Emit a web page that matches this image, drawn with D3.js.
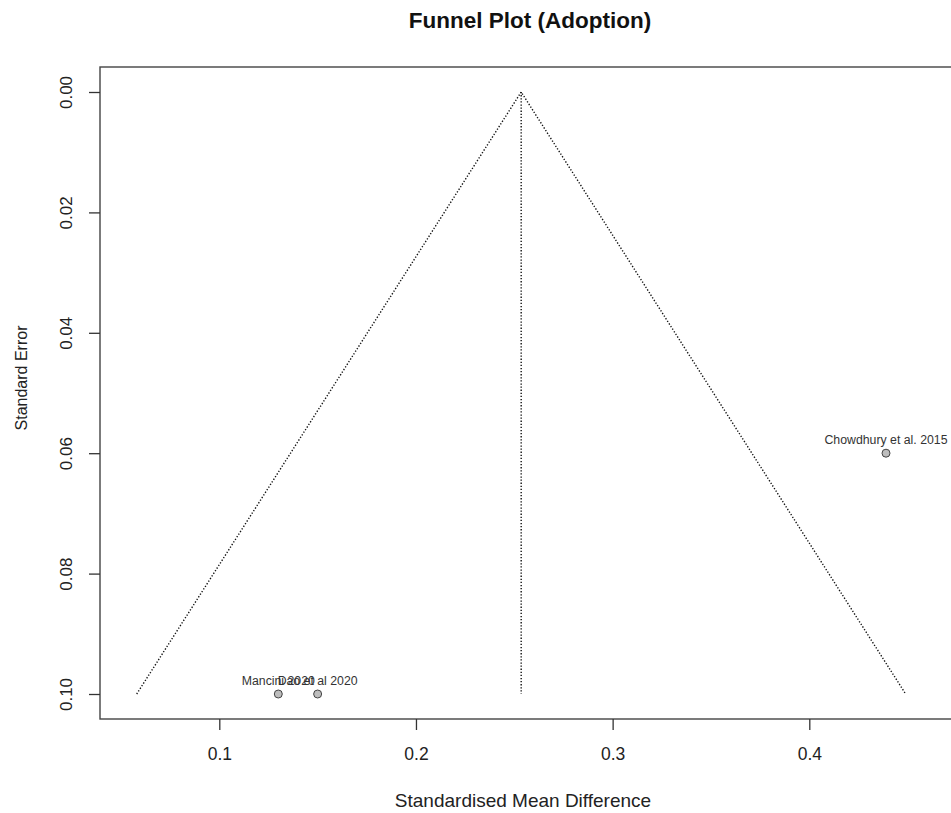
<!DOCTYPE html>
<html>
<head>
<meta charset="utf-8">
<script src="https://cdn.jsdelivr.net/npm/d3@7"></script>
<style>
  body { margin: 0; background: #fff; }
  svg { font-family: "Liberation Sans", Arial, sans-serif; }
  .funnel { fill: none; stroke: #111; stroke-width: 1.4; stroke-dasharray: 1.3 1.8; }
</style>
</head>
<body>
<svg class="funnel-plot" width="951" height="813"></svg>
<script>
// studies
const studyLabels = ["Mancini 2020", "Dao et al 2020", "Chowdhury et al. 2015"];
const studySmd = [0.13, 0.15, 0.439];
const studySe = [0.1, 0.1, 0.06];

// funnel (pooled estimate and 95% limits at se = 0.1)
const pooledSmd = 0.2535;
const funnelSmd = [0.058, 0.2535, 0.449];
const funnelSe = [0.1, 0, 0.1];

const xTicks = [0.1, 0.2, 0.3, 0.4];
const yTicks = [0, 0.02, 0.04, 0.06, 0.08, 0.1];

const svg = d3.select("svg.funnel-plot");

const box = { left: 100, top: 67, right: 962, bottom: 719 };

const x = d3.scaleLinear().domain([0.1, 0.4]).range([219.3, 809.3]);
const y = d3.scaleLinear().domain([0, 0.1]).range([92, 694]);

// plot box
svg
  .append("rect")
  .attr("x", box.left)
  .attr("y", box.top)
  .attr("width", box.right - box.left)
  .attr("height", box.bottom - box.top)
  .attr("fill", "none")
  .attr("stroke", "#444")
  .attr("stroke-width", 1.4);

// axes
const xAxis = svg
  .append("g")
  .attr("transform", "translate(0," + box.bottom + ")")
  .call(d3.axisBottom(x).tickValues(xTicks).tickSize(11).tickFormat(d3.format(".1f")));

const yAxis = svg
  .append("g")
  .attr("transform", "translate(" + box.left + ",0)")
  .call(d3.axisLeft(y).tickValues(yTicks).tickSize(11).tickFormat(d3.format(".2f")));

[xAxis, yAxis].forEach((g) => {
  g.select(".domain").remove();
  g.selectAll(".tick line").attr("stroke", "#333").attr("stroke-width", 1.3);
  g.selectAll(".tick text")
    .attr("fill", "#222")
    .attr("font-family", "Liberation Sans, Arial, sans-serif");
});

xAxis.selectAll(".tick text").attr("font-size", 17.5).attr("dy", null).attr("y", 41);

yAxis
  .selectAll(".tick text")
  .attr("font-size", 17)
  .attr("x", null)
  .attr("dy", null)
  .attr("text-anchor", "middle")
  .attr("transform", "translate(-28,0) rotate(-90)");

// funnel lines
const funnelLine = d3
  .line()
  .x((d, i) => x(funnelSmd[i]))
  .y((d, i) => y(funnelSe[i]));

svg
  .append("path")
  .attr("class", "funnel")
  .attr("d", funnelLine(funnelSmd));

svg
  .append("line")
  .attr("class", "funnel")
  .attr("x1", x(pooledSmd))
  .attr("x2", x(pooledSmd))
  .attr("y1", y(0))
  .attr("y2", y(0.1));

// study points and labels
const studies = svg
  .selectAll("g.study")
  .data(studyLabels)
  .enter()
  .append("g")
  .attr("class", "study")
  .attr("transform", (d, i) => "translate(" + x(studySmd[i]) + "," + y(studySe[i]) + ")");

studies
  .append("circle")
  .attr("r", 4)
  .attr("fill", "#bdbdbd")
  .attr("stroke", "#444")
  .attr("stroke-width", 1);

studies
  .append("text")
  .attr("y", -9)
  .attr("text-anchor", "middle")
  .attr("font-size", 12.3)
  .attr("fill", "#333")
  .text((d) => d);

// titles
svg
  .append("text")
  .attr("x", 530)
  .attr("y", 28)
  .attr("text-anchor", "middle")
  .attr("font-size", 22.5)
  .attr("font-weight", "bold")
  .attr("fill", "#111")
  .text("Funnel Plot (Adoption)");

svg
  .append("text")
  .attr("x", 523)
  .attr("y", 807)
  .attr("text-anchor", "middle")
  .attr("font-size", 19)
  .attr("fill", "#222")
  .text("Standardised Mean Difference");

svg
  .append("text")
  .attr("transform", "translate(27,378) rotate(-90)")
  .attr("text-anchor", "middle")
  .attr("font-size", 16)
  .attr("fill", "#222")
  .text("Standard Error");
</script>
</body>
</html>
